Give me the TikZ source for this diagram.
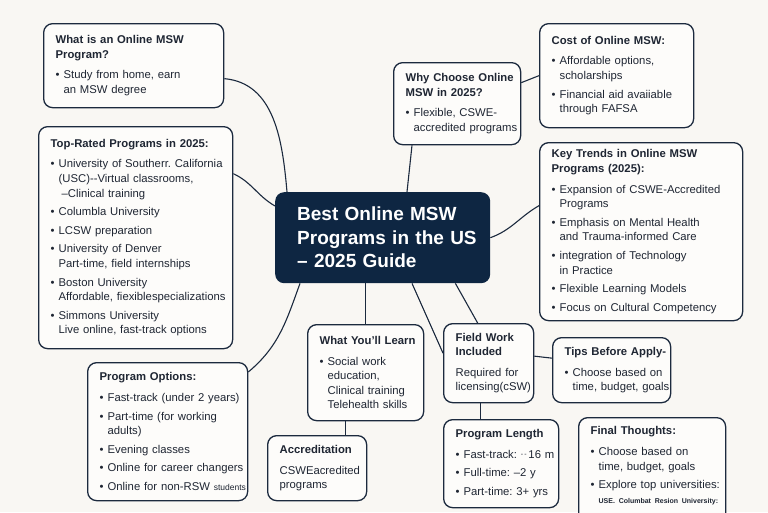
\documentclass[tikz,border=0pt]{standalone}
\usepackage{fontspec}
\setmainfont{Liberation Sans}
\usepackage{xcolor}
\usetikzlibrary{positioning}
\definecolor{navy}{HTML}{1C2A3E}
\definecolor{hubblue}{HTML}{0E2642}
\definecolor{paper}{HTML}{F9F7F3}
\definecolor{cardfill}{HTML}{FDFCFA}
\definecolor{ink}{HTML}{1F2633}
\frenchspacing
\newcommand{\ttl}[1]{{\bfseries #1\par}\vspace{2pt}}
\newcommand{\bul}[1]{\par\vspace{4pt}{\advance\leftskip 8pt
  \hspace*{-8pt}\makebox[8pt][l]{\textbullet}#1\par}}

\begin{document}
\begin{tikzpicture}[x=1pt, y=-1pt,
    card/.style={draw=navy, line width=1.3pt, rounded corners=9pt, fill=cardfill,
                 text=ink, anchor=north west, inner sep=0pt, text width=#1,
                 font=\fontsize{11.3}{14.6}\selectfont,
                 execute at begin node={\leftskip=12pt\rightskip=0pt plus 1fil minus 20pt\parindent=0pt}},
    hub/.style={fill=hubblue, rounded corners=9pt, text=white, anchor=north west,
                inner sep=0pt, text width=215pt, minimum height=91pt,
                font=\bfseries\fontsize{19}{23.5}\selectfont,
                execute at begin node={\leftskip=22pt\rightskip=0pt plus 1fil\parindent=0pt}},
    link/.style={draw=navy, line width=1.1pt}
  ]
  \useasboundingbox (0,0) rectangle (768,512);
  \fill[paper] (0,0) rectangle (768,512);
  \clip (0,0) rectangle (768,512);

  % centre
  \node[hub] (hub) at (275,192) {Best Online MSW\\Programs in the US\\– 2025 Guide};

  % left column
  \node[card=180pt, minimum height=84pt] (what) at (43,23)
    {\ttl{What is an Online MSW\\Program?}\bul{Study from home, earn\\an MSW degree}};
  \node[card=194pt, minimum height=222pt] (top) at (38,126)
    {\ttl{Top-Rated Programs in 2025:}
     \bul{University of Southerr. California\\(USC)-{}-Virtual classrooms,\\\hspace*{3pt}–Clinical training}
     \bul{Columbla University}
     \bul{LCSW preparation}
     \bul{University of Denver\\Part-time, field internships}
     \bul{Boston University\\Affordable, fiexiblespecializations}
     \bul{Simmons University\\Live online, fast-track options}};
  \node[card=160pt, minimum height=138pt] (options) at (87,362)
    {\ttl{Program Options:}
     \bul{Fast-track (under 2 years)}
     \bul{Part-time (for working\\adults)}
     \bul{Evening classes}
     \bul{Online for career changers}
     \bul{Online for non-RSW {\fontsize{8.5}{10}\selectfont students}}};

  % top right
  \node[card=127pt, minimum height=82pt] (why) at (393,62)
    {\ttl{Why Choose Online\\MSW in 2025?}\bul{Flexible, CSWE-\\accredited programs}};
  \node[card=154pt, minimum height=104pt] (cost) at (539,23)
    {\ttl{Cost of Online MSW:}
     \bul{Affordable options,\\scholarships}
     \bul{Financial aid avaiiable\\through FAFSA}};
  \node[card=203pt, minimum height=178pt] (key) at (539,142)
    {\ttl{Key Trends in Online MSW\\Programs (2025):}
     \bul{Expansion of CSWE-Accredited\\Programs}
     \bul{Emphasis on Mental Health\\and Trauma-informed Care}
     \bul{integration of Technology\\in Practice}
     \bul{Flexible Learning Models}
     \bul{Focus on Cultural Competency}};

  % bottom row
  \node[card=116pt, minimum height=96pt] (learn) at (307,324)
    {\ttl{What You'll Learn}\bul{Social work\\education,\\Clinical training\\Telehealth skills}};
  \node[card=99pt, minimum height=65pt] (accr) at (267,435)
    {\ttl{Accreditation}\vspace{4pt}CSWEacredited\\programs};
  \node[card=90pt, minimum height=79pt] (field) at (443,323)
    {\ttl{Field Work\\Included}\vspace{4pt}Required for\\licensing(cSW)};
  \node[card=118pt, minimum height=65pt] (tips) at (552,337)
    {\ttl{Tips Before Apply-}\bul{Choose based on\\time, budget, goals}};
  \node[card=115pt, minimum height=88pt] (length) at (443,419)
    {\ttl{Program Length}
     \bul{Fast-track: \raisebox{1.5pt}{\fontsize{7}{7}\selectfont -\,-}\,16 m}
     \bul{Full-time: –2 y}
     \bul{Part-time: 3+ yrs}};
  \node[card=147pt, minimum height=110pt] (final) at (578,417)
    {\ttl{Final Thoughts:}
     \bul{Choose based on\\time, budget, goals}
     \bul{Explore top universities:\\{\fontsize{7}{10}\selectfont\bfseries USE. Columbat Resion University:}}\vspace{14pt}};

  % connectors
  \draw[link] ([yshift=-13pt]what.east) to[out=-5, in=95] ([xshift=12pt]hub.north west);
  \draw[link] ([yshift=64pt]top.east) to[out=-25, in=150] ([yshift=-14pt]hub.north west);
  \draw[link] ([xshift=132pt]hub.north west) -- ([xshift=19pt]why.south west);
  \draw[link] ([yshift=21pt]why.east) -- (cost.west);
  \draw[link] (hub.east) to[out=20, in=210] ([yshift=26pt]key.west);
  \draw[link] ([xshift=25pt]hub.south west) to[out=-110, in=40] ([yshift=-10pt]options.north east);
  \draw[link] (learn.north |- hub.south) -- (learn.north);
  \draw[link] ([xshift=-20pt]learn.south) -- ([xshift=-20pt]learn.south |- accr.north);
  \draw[link] ([xshift=137pt]hub.south west) -- ([yshift=10pt]field.west);
  \draw[link] ([xshift=-35pt]hub.south east) -- ([xshift=-11pt]field.north);
  \draw[link] ([yshift=7pt]field.east) -- ([yshift=12pt]tips.west);
  \draw[link] ([xshift=-8pt]field.south) -- ([xshift=-8pt]field.south |- length.north);
\end{tikzpicture}
\end{document}
